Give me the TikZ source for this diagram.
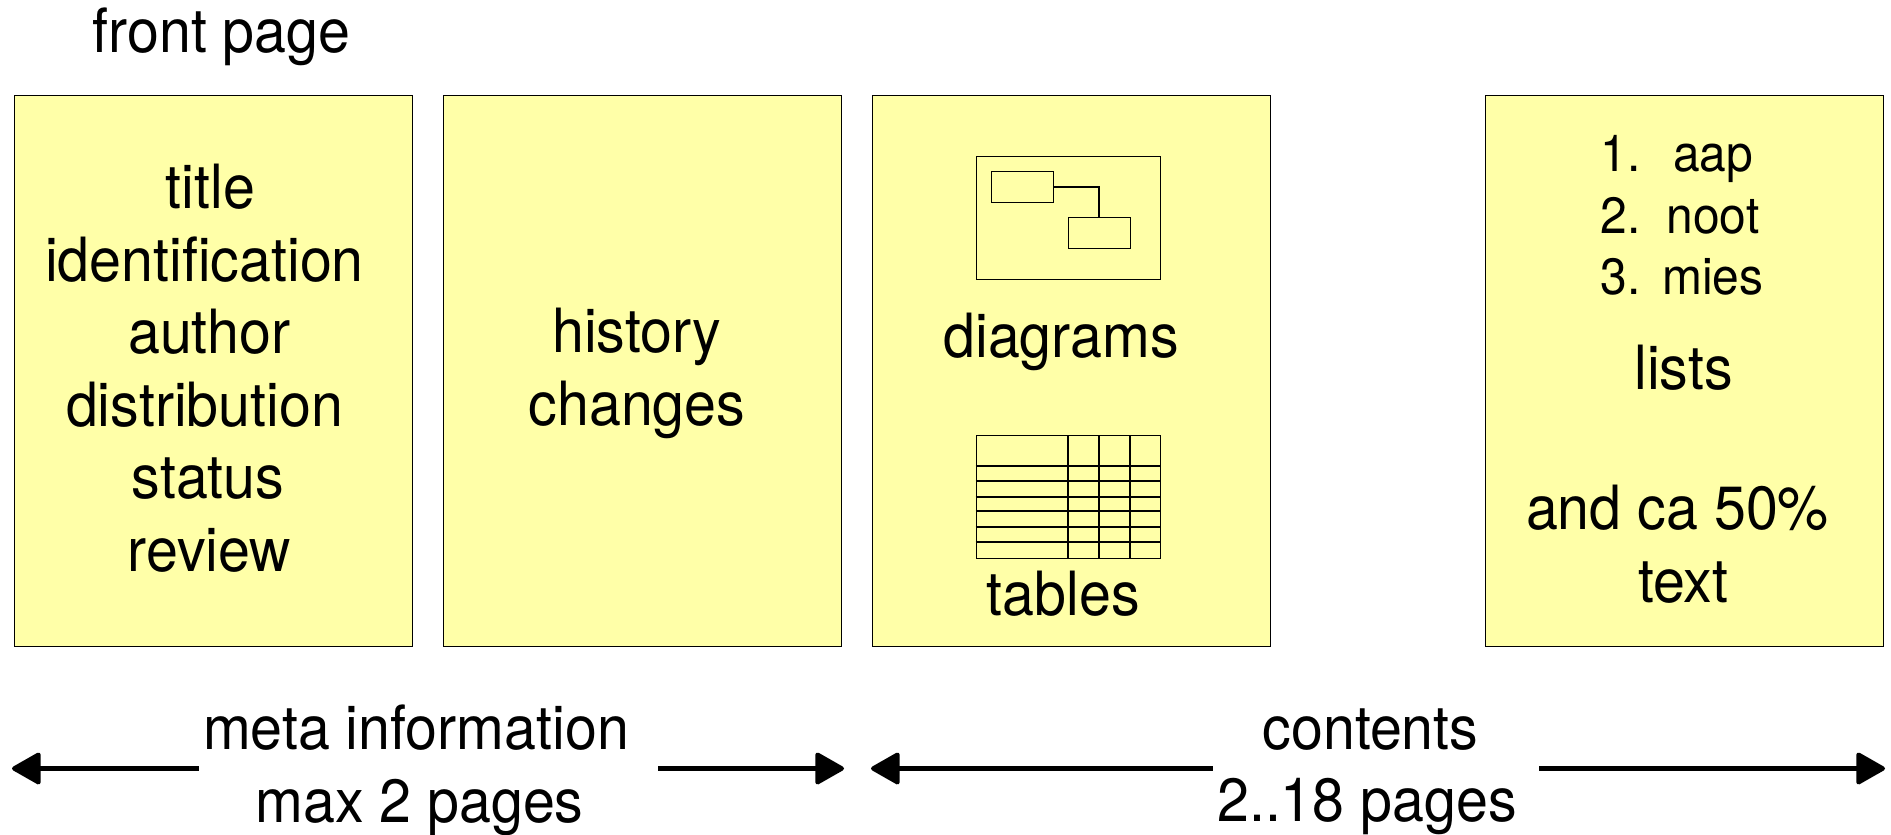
\documentclass[tikz,border=0pt]{standalone}
\usepackage{fontspec}
\setmainfont[FakeStretch=0.94]{TeX Gyre Heros}
\usetikzlibrary{arrows.meta,positioning}
\definecolor{pageyellow}{HTML}{FFFFA8}

\begin{document}
\begin{tikzpicture}[
        x=1pt, y=-1pt,
        node distance=30pt,
        pagebox/.style={draw, line width=1pt, fill=pageyellow, inner sep=0pt, minimum width=398pt, minimum height=551pt},
        bigtext/.style={inner sep=0pt, align=center, font=\fontsize{61}{72.5}\selectfont},
        listtext/.style={inner sep=0pt, align=center, font=\fontsize{51}{61.5}\selectfont},
        thinbox/.style={draw, line width=1pt, inner sep=0pt},
        bigarrow/.style={-{Triangle[length=31pt,width=34pt,round]}, line width=4.3pt}
    ]
    \useasboundingbox (0,0) rectangle (1891,835);

    % Pages
    \node (pageone)[pagebox] at (213.5,370.5) {};
    \node (pagetwo)[pagebox, right=of pageone] {};
    \node (pagethree)[pagebox, right=of pagetwo] {};
    \node (pagefour)[pagebox, right=214pt of pagethree] {};

    % Texts on the pages
    \node (frontpage)[bigtext, above=of pageone, xshift=8pt, yshift=-1pt] {front page};
    \node (frontlines)[bigtext] at ([xshift=-9pt,yshift=2.5pt]pageone.center) {\hspace*{12pt}title \\ identification \\ \hspace*{9.6pt}author \\ distribution \\ \hspace*{7pt}status \\ \hspace*{9.6pt}review};
    \node (historylines)[bigtext] at ([xshift=-5.5pt,yshift=-3pt]pagetwo.center) {history \\ changes};

    % Diagram sketch
    \node (diagramframe)[thinbox, minimum width=184.3pt, minimum height=123.6pt] at (1068.2,218) {};
    \node (boxa)[thinbox, minimum width=62pt, minimum height=31pt] at (1022.3,187) {};
    \node (boxb)[thinbox, minimum width=62pt, minimum height=31pt] at (1099,233) {};
    \draw[line width=2pt] (boxa.east) -| (boxb.north);
    \node (diagramtext)[bigtext, below=33pt of diagramframe, xshift=-7pt] {diagrams};

    % Table sketch
    \node (tableframe)[thinbox, minimum width=184.3pt, minimum height=122.5pt] at (1068.2,496.75) {};
    \draw[line width=2pt]
        (tableframe.west |- 0,465.9) -- (tableframe.east |- 0,465.9)
        (tableframe.west |- 0,481) -- (tableframe.east |- 0,481)
        (tableframe.west |- 0,496.6) -- (tableframe.east |- 0,496.6)
        (tableframe.west |- 0,511.4) -- (tableframe.east |- 0,511.4)
        (tableframe.west |- 0,527.3) -- (tableframe.east |- 0,527.3)
        (tableframe.west |- 0,542) -- (tableframe.east |- 0,542)
        (tableframe.north -| 1068,0) -- (tableframe.south -| 1068,0)
        (tableframe.north -| 1099.3,0) -- (tableframe.south -| 1099.3,0)
        (tableframe.north -| 1130,0) -- (tableframe.south -| 1130,0);
    \node (tabletext)[bigtext, below=12pt of tableframe, xshift=-5pt] {tables};

    % List page
    \node (listlines)[listtext] at (1682,221) {\begin{tabular}{@{}l@{\hspace{22pt}}c@{}}
        1. & aap \\
        2. & noot \\
        3. & mies
      \end{tabular}};
    \node (liststext)[bigtext] at (1683.5,367.5) {lists};
    \node (restlines)[bigtext] at (1677.5,544) {and ca 50\% \\ \hspace*{12pt}text};

    % Bottom labels
    \node (metatext)[bigtext] at (416,770.5) {meta information \\ \hspace*{7pt}max 2 pages};
    \node (contenttext)[bigtext] at (1367,772) {\hspace*{7pt}contents \\ 2..18 pages};

    \coordinate (metaleft) at (12,768.5);
    \coordinate (metaright) at (844,768.5);
    \coordinate (contentleft) at (871,768.5);
    \coordinate (contentright) at (1885,768.5);

    % Arrows
    \draw[bigarrow] ([xshift=-4pt]metatext.west |- metaleft) -- (metaleft);
    \draw[bigarrow] ([xshift=29pt]metatext.east |- metaright) -- (metaright);
    \draw[bigarrow] ([xshift=-4pt]contenttext.west |- contentleft) -- (contentleft);
    \draw[bigarrow] ([xshift=22pt]contenttext.east |- contentright) -- (contentright);

\end{tikzpicture}
\end{document}
